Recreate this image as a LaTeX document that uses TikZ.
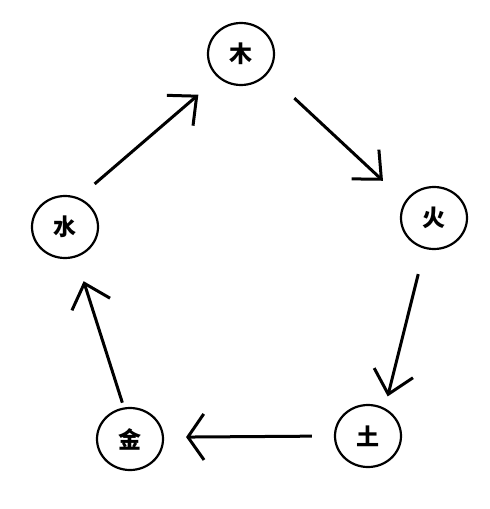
\documentclass[tikz,border=0pt]{standalone}
\usepackage{fontspec}
\setmainfont{Noto Sans CJK SC}
\usetikzlibrary{shapes.geometric, arrows.meta}

\tikzset{
  element/.style={ellipse,
    minimum width=66pt,
    minimum height=62pt,
    inner sep=0pt,
    line width=2.2pt,
    font=\fontsize{23}{23}\selectfont\bfseries,
    draw=black},
  flow/.style={line width=3pt,
    -{Straight Barb[length=22pt, width=40pt, line width=3pt]}}
}

\begin{document}
\begin{tikzpicture}[x=1pt, y=-1pt]
  \useasboundingbox (0,0) rectangle (490,509);

  \node (mu)   [element] at (241,54)  {木};
  \node (huo)  [element] at (434,218) {火};
  \node (tu)   [element] at (368,436) {土};
  \node (jin)  [element] at (130,439) {金};
  \node (shui) [element] at (65,227)  {水};

  \draw[flow, shorten <=36pt, shorten >=30pt] (mu.324) -- (huo.150);
  \draw[flow, shorten <=26pt, shorten >=12pt] (huo.253) -- (tu.59);
  \draw[flow, shorten <=22pt, shorten >=22pt,
    -{Straight Barb[length=16pt, width=46pt, line width=3pt]}] (tu.180) -- (jin.3);
  \draw[flow, shorten <=5pt, shorten >=25pt] (jin.101) -- (shui.290);
  \draw[flow, shorten <=21pt, shorten >=26pt] (shui.65) -- (mu.226);
\end{tikzpicture}
\end{document}
